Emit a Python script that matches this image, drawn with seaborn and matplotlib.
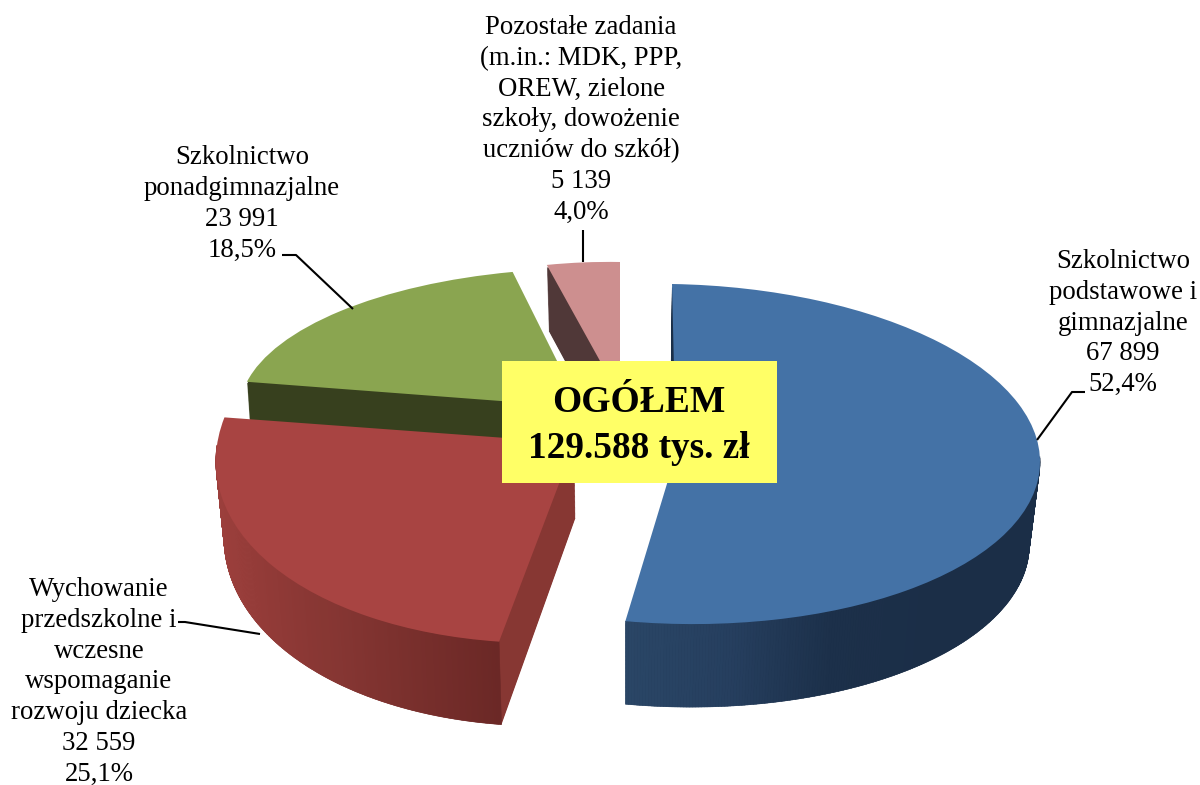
import numpy as np
import matplotlib
matplotlib.use("Agg")
import matplotlib.pyplot as plt
import seaborn as sns
from matplotlib.collections import PolyCollection
from matplotlib.colors import LinearSegmentedColormap
from matplotlib.patches import Wedge, Rectangle
from matplotlib.transforms import Affine2D

# ---- data ----
names = ["Szkolnictwo\npodstawowe i\ngimnazjalne",
         "Wychowanie\nprzedszkolne i\nwczesne\nwspomaganie\nrozwoju dziecka",
         "Szkolnictwo\nponadgimnazjalne",
         "Pozostałe zadania\n(m.in.: MDK, PPP,\nOREW, zielone\nszkoły, dowożenie\nuczniów do szkół)"]
amounts = [67899, 32559, 23991, 5139]
percents = ["52,4%", "25,1%", "18,5%", "4,0%"]
title_lines = ["OGÓŁEM", "129.588 tys. zł"]

# ---- styles ----
top_colors = ["#4472A6", "#A84442", "#8AA550", "#CD8F8F"]
face_colors = ["#1B2F48", "#873733", "#37401E", "#503838"]
wall_ramps = [["#2A4666", "#263F5F", "#1C304A", "#1B2E47", "#1B2E47"],
              ["#9C3F3C", "#8A3835", "#7A302D", "#6B2826"]]
# screen layout of each slice: [[xX, xY, x0], [yX, yY, y0]]
layout = [[[364, -4, 676], [6, -170, 454]],
          [[358, 22, 574.5], [-6, -200, 443]],
          [[340, 17, 580], [3.4, -138.5, 407]],
          [[297, 0, 620], [5, -135, 397]]]
# bottom rim: x scale, x pivot, y scale, y shift
rims = [(0.974, 627, 1.0, 83), (0.98, 620, 1.04, 75), (0.99, 620, 1.0, 55), (0.973, 620, 1.0, 66)]
paint_order = [2, 3, 1, 0]
zbase = {2: 1, 3: 2, 1: 3, 0: 4}
label_xy = [(1123, 323), (99, 682), (242, 204), (581, 120)]
leaders = [[(1037, 440), (1072, 392), (1085, 392)],
           [(260, 634), (185, 622), (178, 622)],
           [(353, 309), (296, 255), (282, 255)],
           [(583, 262), (583, 230)]]
LAYERS = 60

sns.set_theme(style="white")
plt.rcParams["font.family"] = ["Liberation Serif", "DejaVu Serif"]

fig = plt.figure(figsize=(12, 7.85), dpi=100, facecolor="white")
ax = fig.add_axes([0, 0, 1, 1])
wedges, _ = ax.pie(amounts, colors=top_colors, startangle=90, counterclock=False,
                   wedgeprops=dict(linewidth=0))
ax.set_aspect("auto")
ax.set_xlim(0, 1200)
ax.set_ylim(785, 0)
ax.axis("off")


def top_affine(i):
    m = np.array(layout[i] + [[0, 0, 1]], dtype=float)
    return Affine2D(m)


def rim_affine(i, frac):
    sx, px, sy, dy = rims[i]
    y0 = layout[i][1][2]
    s = 1 + (sx - 1) * frac
    t = 1 + (sy - 1) * frac
    m = np.array([[s, 0, px * (1 - s)],
                  [0, t, y0 * (1 - t) + dy * frac],
                  [0, 0, 1]])
    return top_affine(i) + Affine2D(m)


for i in paint_order:
    w = wedges[i]
    z = zbase[i]
    # extruded body: stacked copies of the wedge, lowest first
    for k, frac in enumerate(np.linspace(1, 0.04, LAYERS)):
        p = Wedge(w.center, w.r, w.theta1, w.theta2, facecolor=face_colors[i], linewidth=0,
                  transform=rim_affine(i, frac) + ax.transData, zorder=z + k / 1000)
        ax.add_patch(p)
    # outer wall with its shading (front of the two near slices only)
    if i < len(wall_ramps):
        th = np.radians(np.linspace(w.theta1, w.theta2, 400))
        th = th[np.sin(th) < 0.02]
        unit = np.column_stack([np.cos(th), np.sin(th)])
        upper = rim_affine(i, 0).transform(unit)
        lower = rim_affine(i, 1).transform(unit)
        polys = [[upper[j], upper[j + 1], lower[j + 1], lower[j]] for j in range(len(th) - 1)]
        xs = upper[:-1, 0]
        cmap = LinearSegmentedColormap.from_list("wall", wall_ramps[i])
        cols = cmap((xs - xs.min()) / (xs.max() - xs.min()))
        ax.add_collection(PolyCollection(polys, facecolors=cols, edgecolors=cols, linewidths=0.4,
                                         zorder=z + 0.5), autolim=False)
    # top face
    w.set_transform(top_affine(i) + ax.transData)
    w.set_zorder(z + 0.6)

for pts in leaders:
    xy = np.array(pts)
    ax.plot(xy[:, 0], xy[:, 1], color="black", lw=1.5, zorder=6, solid_capstyle="butt")

for name, amt, pct, (x, y) in zip(names, amounts, percents, label_xy):
    amount_txt = f"{amt:,}".replace(",", " ")
    ax.text(x, y, f"{name}\n{amount_txt}\n{pct}", ha="center", va="center", fontsize=19.3,
            color="black", linespacing=1.30, zorder=7)

ax.add_patch(Rectangle((502, 361), 275, 122, facecolor="#FFFF66", edgecolor="none", zorder=8))
ax.text(639, 403, title_lines[0], ha="center", va="center", fontsize=27, fontweight="bold",
        color="black", zorder=9)
ax.text(639, 448, title_lines[1], ha="center", va="center", fontsize=26.8, fontweight="bold",
        color="black", zorder=9)

fig.savefig("out.png", dpi=100)
